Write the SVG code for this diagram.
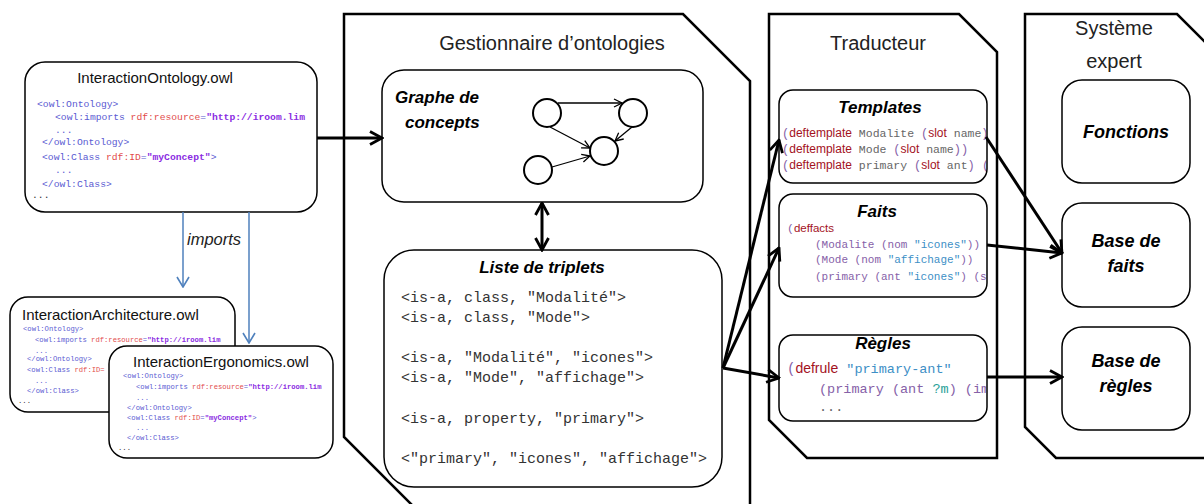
<svg xmlns="http://www.w3.org/2000/svg" width="1204" height="504" viewBox="0 0 1204 504">
<style>
.panel{fill:none;stroke:#000;stroke-width:2.5}
.box{fill:#fff;stroke:#000;stroke-width:1.5}
.ptitle{font-family:"Liberation Sans",Arial,sans-serif;font-size:20px;fill:#222}
.btitle{font-family:"Liberation Sans",Arial,sans-serif;font-weight:bold;font-style:italic;font-size:17px;fill:#000}
.stitle{font-family:"Liberation Sans",Arial,sans-serif;font-weight:bold;font-style:italic;font-size:18px;fill:#000}
.ftitle{font-family:"Liberation Sans",Arial,sans-serif;font-size:15px;fill:#111}
.mono{font-family:"Liberation Mono","Courier New",monospace}
.sans{font-family:"Liberation Sans",Arial,sans-serif}
.tag{fill:#5a5ad2}
.att{fill:#e24b4b}
.val{fill:#8a2be2;font-weight:bold}
.kw{fill:#a3121e}
.par{fill:#8661a8}
.txt{fill:#666}
.str{fill:#3d8fc6}
.var{fill:#2aa198}
.trip{font-family:"Liberation Mono","Courier New",monospace;font-size:15px;fill:#333}
.conn{fill:none;stroke:#000;stroke-width:3}
.thin{fill:none;stroke:#000;stroke-width:1.3}
.imp{fill:none;stroke:#4f81bd;stroke-width:1.5}
.circ{fill:#fff;stroke:#000;stroke-width:2}
.o1{font-size:9.7px}
.o2{font-size:7.2px}
</style>
<defs>
<marker id="ah" viewBox="0 0 15 16" refX="13.5" refY="8" markerWidth="15" markerHeight="16" markerUnits="userSpaceOnUse" orient="auto-start-reverse"><path d="M1.5,1.5 L13.5,8 L1.5,14.5" fill="none" stroke="#000" stroke-width="2.8"/></marker>
<marker id="sh" viewBox="0 0 10 10" refX="9" refY="5" markerWidth="10" markerHeight="10" markerUnits="userSpaceOnUse" orient="auto"><path d="M1,1 L9,5 L1,9" fill="none" stroke="#000" stroke-width="1.3"/></marker>
<marker id="bh" viewBox="0 0 14 12" refX="7" refY="11" markerWidth="14" markerHeight="12" markerUnits="userSpaceOnUse" orient="0"><path d="M1,1 L7,11 L13,1" fill="none" stroke="#4f81bd" stroke-width="1.6"/></marker>
<clipPath id="cp1"><rect x="25" y="62" width="291" height="150" rx="20"/></clipPath>
<clipPath id="cp2"><rect x="10" y="297" width="224" height="115" rx="18"/></clipPath>
<clipPath id="cp2b"><path d="M0,290 L240,290 L240,345 L109,345 L109,420 L0,420 Z"/></clipPath>
<clipPath id="cp3"><rect x="109" y="346" width="223" height="112" rx="18"/></clipPath>
<clipPath id="cpt"><rect x="779" y="90" width="207" height="340"/></clipPath>
</defs>

<g id="panels">
<path class="panel" d="M418,511 L344,437 L344,14 L683,14 L750,81 L750,511"/>
<path class="panel" d="M769,14 L959,14 L997,52 L997,458 L807,458 L769,420 Z"/>
<path class="panel" d="M1215,458 L1056,458 L1025,427 L1025,14 L1177,14 L1215,52"/>
<text class="ptitle" x="552" y="50" text-anchor="middle">Gestionnaire d’ontologies</text>
<text class="ptitle" x="878" y="50" text-anchor="middle">Traducteur</text>
<text class="ptitle" x="1114" y="35" text-anchor="middle">Système</text>
<text class="ptitle" x="1114" y="68" text-anchor="middle">expert</text>
</g>

<g id="interaction-ontology">
<rect class="box" x="25" y="62" width="292" height="150" rx="20"/>
<text class="ftitle" x="155" y="83" text-anchor="middle">InteractionOntology.owl</text>
<g clip-path="url(#cp1)" class="mono o1">
<text x="37" y="107" class="tag">&lt;owl:Ontology&gt;</text>
<text x="55" y="120"><tspan class="tag">&lt;owl:imports</tspan><tspan class="att"> rdf:resource</tspan><tspan class="tag">=</tspan><tspan class="val">"http://iroom.lim</tspan></text>
<text x="55" y="133" class="tag">...</text>
<text x="42" y="145" class="tag">&lt;/owl:Ontology&gt;</text>
<text x="42" y="160"><tspan class="tag">&lt;owl:Class</tspan><tspan class="att"> rdf:ID</tspan><tspan class="tag">=</tspan><tspan class="val">"myConcept"</tspan><tspan class="tag">&gt;</tspan></text>
<text x="55" y="173" class="tag">...</text>
<text x="42" y="187" class="tag">&lt;/owl:Class&gt;</text>
<text x="32" y="198" fill="#333">...</text>
</g>
</g>

<g id="interaction-architecture">
<rect class="box" x="10" y="297" width="225" height="115" rx="18"/>
<text class="ftitle" x="22" y="320">InteractionArchitecture.owl</text>
<g clip-path="url(#cp2)"><g clip-path="url(#cp2b)" class="mono o2">
<text x="23" y="331" class="tag">&lt;owl:Ontology&gt;</text>
<text x="35" y="342"><tspan class="tag">&lt;owl:imports</tspan><tspan class="att"> rdf:resource</tspan><tspan class="tag">=</tspan><tspan class="val">"http://iroom.lim</tspan></text>
<text x="35" y="353" class="tag">...</text>
<text x="27" y="361" class="tag">&lt;/owl:Ontology&gt;</text>
<text x="27" y="372"><tspan class="tag">&lt;owl:Class</tspan><tspan class="att"> rdf:ID=</tspan></text>
<text x="35" y="383" class="tag">...</text>
<text x="27" y="393" class="tag">&lt;/owl:Class&gt;</text>
<text x="18" y="403" fill="#333">...</text>
</g></g>
</g>

<g id="interaction-ergonomics">
<rect class="box" x="109" y="346" width="224" height="112" rx="18"/>
<text class="ftitle" x="221" y="367" text-anchor="middle">InteractionErgonomics.owl</text>
<g clip-path="url(#cp3)" class="mono o2">
<text x="123" y="378" class="tag">&lt;owl:Ontology&gt;</text>
<text x="136" y="389"><tspan class="tag">&lt;owl:imports</tspan><tspan class="att"> rdf:resource</tspan><tspan class="tag">=</tspan><tspan class="val">"http://iroom.lim</tspan></text>
<text x="136" y="400" class="tag">...</text>
<text x="127" y="410" class="tag">&lt;/owl:Ontology&gt;</text>
<text x="127" y="420"><tspan class="tag">&lt;owl:Class</tspan><tspan class="att"> rdf:ID</tspan><tspan class="tag">=</tspan><tspan class="val">"myConcept"</tspan><tspan class="tag">&gt;</tspan></text>
<text x="136" y="430" class="tag">...</text>
<text x="127" y="440" class="tag">&lt;/owl:Class&gt;</text>
<text x="118" y="450" fill="#333">...</text>
</g>
</g>

<g id="graphe-concepts">
<rect class="box" x="382" y="70" width="321" height="132" rx="22"/>
<text class="btitle" x="395" y="103">Graphe de</text>
<text class="btitle" x="405" y="128">concepts</text>
<circle class="circ" cx="547" cy="113" r="14"/>
<circle class="circ" cx="633" cy="113" r="14"/>
<circle class="circ" cx="604" cy="151" r="14"/>
<circle class="circ" cx="538" cy="170" r="14"/>
<line class="thin" x1="558" y1="103" x2="622" y2="103" marker-end="url(#sh)"/>
<line class="thin" x1="550" y1="127" x2="590" y2="148" marker-end="url(#sh)"/>
<line class="thin" x1="632" y1="127" x2="615" y2="141" marker-end="url(#sh)"/>
<line class="thin" x1="552" y1="167" x2="590" y2="156" marker-end="url(#sh)"/>
</g>

<g id="liste-triplets">
<rect class="box" x="384" y="250" width="338" height="237" rx="30"/>
<text class="btitle" x="542" y="273" text-anchor="middle">Liste de triplets</text>
<text class="trip" x="401" y="302">&lt;is-a, class, "Modalité"&gt;</text>
<text class="trip" x="401" y="322">&lt;is-a, class, "Mode"&gt;</text>
<text class="trip" x="401" y="362">&lt;is-a, "Modalité", "icones"&gt;</text>
<text class="trip" x="401" y="382">&lt;is-a, "Mode", "affichage"&gt;</text>
<text class="trip" x="401" y="423">&lt;is-a, property, "primary"&gt;</text>
<text class="trip" x="401" y="463">&lt;"primary", "icones", "affichage"&gt;</text>
</g>

<g id="templates">
<rect class="box" x="779" y="90" width="208" height="93" rx="14"/>
<text class="btitle" x="880" y="113" text-anchor="middle">Templates</text>
<g clip-path="url(#cpt)" font-size="12">
<text x="782" y="137"><tspan class="par mono">(</tspan><tspan class="kw sans">deftemplate</tspan><tspan class="txt mono" font-size="11.5"> Modalite </tspan><tspan class="par mono">(</tspan><tspan class="kw sans">slot</tspan><tspan class="txt mono" font-size="11.5"> name</tspan><tspan class="par mono">)</tspan></text>
<text x="782" y="153"><tspan class="par mono">(</tspan><tspan class="kw sans">deftemplate</tspan><tspan class="txt mono" font-size="11.5"> Mode </tspan><tspan class="par mono">(</tspan><tspan class="kw sans">slot</tspan><tspan class="txt mono" font-size="11.5"> name</tspan><tspan class="par mono">))</tspan></text>
<text x="782" y="169"><tspan class="par mono">(</tspan><tspan class="kw sans">deftemplate</tspan><tspan class="txt mono" font-size="11.5"> primary </tspan><tspan class="par mono">(</tspan><tspan class="kw sans">slot</tspan><tspan class="txt mono" font-size="11.5"> ant</tspan><tspan class="par mono">) (</tspan><tspan class="kw sans">s</tspan></text>
</g>
</g>

<g id="faits">
<rect class="box" x="779" y="194" width="208" height="103" rx="14"/>
<text class="btitle" x="877" y="217" text-anchor="middle">Faits</text>
<g clip-path="url(#cpt)" font-size="11.5">
<text x="787" y="232"><tspan class="par mono">(</tspan><tspan class="kw sans">deffacts</tspan></text>
<text x="815" y="248" class="mono" font-size="11"><tspan class="par">(Modalite (nom </tspan><tspan class="str">"icones"</tspan><tspan class="par">))</tspan></text>
<text x="815" y="263" class="mono" font-size="11"><tspan class="par">(Mode (nom </tspan><tspan class="str">"affichage"</tspan><tspan class="par">))</tspan></text>
<text x="815" y="280" class="mono" font-size="11"><tspan class="par">(primary (ant </tspan><tspan class="str">"icones"</tspan><tspan class="par">) (s</tspan></text>
</g>
</g>

<g id="regles">
<rect class="box" x="779" y="335" width="208" height="86" rx="14"/>
<text class="btitle" x="883" y="349" text-anchor="middle">Règles</text>
<g clip-path="url(#cpt)">
<text x="787" y="373" font-size="14"><tspan class="par mono">(</tspan><tspan class="kw sans">defrule</tspan><tspan class="str mono" font-size="13.5"> "primary-ant"</tspan></text>
<text x="819" y="393" class="mono" font-size="13.5"><tspan class="par">(primary (ant </tspan><tspan class="var">?m</tspan><tspan class="par">) (img</tspan></text>
<text x="819" y="411" class="mono txt" font-size="13.5">...</text>
</g>
</g>

<g id="fonctions">
<rect class="box" x="1062" y="80" width="128" height="103" rx="20"/>
<text class="stitle" x="1126" y="138" text-anchor="middle">Fonctions</text>
</g>

<g id="base-faits">
<rect class="box" x="1062" y="203" width="128" height="104" rx="20"/>
<text class="stitle" x="1126" y="247" text-anchor="middle">Base de</text>
<text class="stitle" x="1126" y="272" text-anchor="middle">faits</text>
</g>

<g id="base-regles">
<rect class="box" x="1062" y="327" width="128" height="103" rx="20"/>
<text class="stitle" x="1126" y="367" text-anchor="middle">Base de</text>
<text class="stitle" x="1126" y="392" text-anchor="middle">règles</text>
</g>

<g id="connectors">
<line class="imp" x1="183" y1="212" x2="183" y2="287" marker-end="url(#bh)"/>
<line class="imp" x1="249" y1="212" x2="249" y2="343" marker-end="url(#bh)"/>
<text x="187" y="245" font-family="Liberation Sans, Arial, sans-serif" font-style="italic" font-size="16.5" fill="#222">imports</text>
<line class="conn" x1="317" y1="138" x2="382" y2="138" marker-end="url(#ah)"/>
<line class="conn" x1="542" y1="203" x2="542" y2="250" marker-start="url(#ah)" marker-end="url(#ah)"/>
<line class="conn" x1="723" y1="368" x2="779" y2="140" marker-end="url(#ah)"/>
<line class="conn" x1="723" y1="368" x2="779" y2="248" marker-end="url(#ah)"/>
<line class="conn" x1="723" y1="368" x2="779" y2="378" marker-end="url(#ah)"/>
<line class="conn" x1="986" y1="137" x2="1062" y2="253" marker-end="url(#ah)"/>
<line class="conn" x1="987" y1="245" x2="1062" y2="253" marker-end="url(#ah)"/>
<line class="conn" x1="987" y1="377" x2="1062" y2="377" marker-end="url(#ah)"/>
</g>
</svg>
